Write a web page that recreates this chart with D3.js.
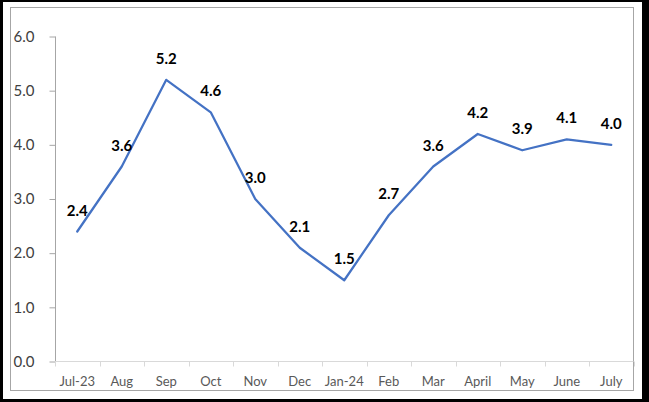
<!DOCTYPE html>
<html><head><meta charset="utf-8">
<script src="https://cdn.jsdelivr.net/npm/d3@7"></script>
<style>html,body{margin:0;padding:0;background:#fff;}svg{display:block;}</style>
</head><body>
<script>
const categories = ["Jul-23","Aug","Sep","Oct","Nov","Dec","Jan-24","Feb","Mar","April","May","June","July"];
const values = [2.4,3.6,5.2,4.6,3.0,2.1,1.5,2.7,3.6,4.2,3.9,4.1,4.0];
const yTicks = [0,1,2,3,4,5,6];

const W = 649, H = 402;
const svg = d3.select("body").append("svg").attr("width", W).attr("height", H);
svg.append("rect").attr("x",0).attr("y",0).attr("width",W).attr("height",H).attr("fill","#000");
svg.append("rect").attr("x",3).attr("y",2).attr("width",639).attr("height",397).attr("fill","#fff");
svg.append("rect").attr("x",10.5).attr("y",7.5).attr("width",623).attr("height",383).attr("fill","none").attr("stroke","#a6a6a6").attr("stroke-width",1);

const x = d3.scaleBand().domain(categories).range([55, 633.5]);
const y = d3.scaleLinear().domain([0,6]).range([361.5, 36.5]);
const font = "Lato, 'Open Sans', sans-serif";

// y axis
const ya = svg.append("g").attr("transform","translate(55.5,0)")
  .call(d3.axisLeft(y).tickValues(yTicks).tickFormat(d3.format(".1f")).tickSize(6).tickPadding(0));
ya.select(".domain").attr("stroke","#a6a6a6").attr("d","M0,"+y(6)+"V"+y(0));
ya.selectAll(".tick line").attr("stroke","#a6a6a6");
ya.selectAll(".tick text").attr("x",-42).attr("text-anchor","start").attr("fill","#404040")
  .style("font-family",font).style("font-size","15px");

// x axis
const xa = svg.append("g").attr("transform","translate(0,361.5)")
  .call(d3.axisBottom(x).tickSize(0).tickPadding(15));
xa.select(".domain").attr("stroke","#d9d9d9").attr("d","M55,0H633.5");
xa.selectAll(".tick text").attr("fill","#595959").style("font-family",font).style("font-size","13px");
xa.selectAll(".tick line").remove();
const bounds = categories.map(c => x(c)).concat([x.range()[1]]);
svg.append("g").selectAll("line").data(bounds).join("line")
  .attr("x1",d=>Math.round(d)+0.5).attr("x2",d=>Math.round(d)+0.5)
  .attr("y1",361.5).attr("y2",366.5).attr("stroke","#d9d9d9");

const cx = c => x(c) + x.bandwidth()/2;
const line = d3.line().x((d,i)=>cx(categories[i])).y(d=>y(d));
svg.append("path").datum(values).attr("d",line).attr("fill","none")
  .attr("stroke","#4472C4").attr("stroke-width",2.25).attr("stroke-linejoin","round").attr("stroke-linecap","round");

svg.append("g").selectAll("text").data(values).join("text")
  .attr("x",(d,i)=>cx(categories[i])).attr("y",d=>y(d)-16)
  .attr("text-anchor","middle").attr("fill","#000").style("font-weight","bold")
  .style("font-family",font).style("font-size","15px").text(d=>d.toFixed(1));
</script>
</body></html>
